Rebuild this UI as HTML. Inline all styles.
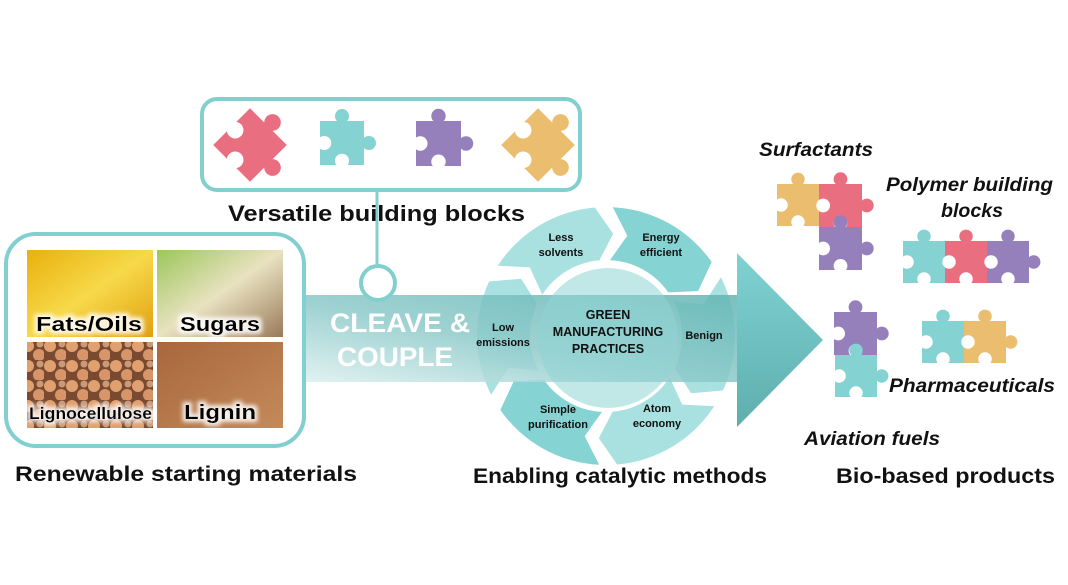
<!DOCTYPE html>
<html><head><meta charset="utf-8"><style>
body{margin:0;background:#fff;}
svg text{font-family:"Liberation Sans",sans-serif;font-weight:bold;}
</style></head><body>
<svg id="s" width="1068" height="580" viewBox="0 0 1068 580" xmlns="http://www.w3.org/2000/svg">
<defs>
<linearGradient id="band" x1="0" y1="1" x2="1" y2="0">
<stop offset="0" stop-color="#dcefef"/><stop offset="0.45" stop-color="#8ecaca"/><stop offset="1" stop-color="#62b4b4"/></linearGradient>
<linearGradient id="head" x1="0" y1="0" x2="0" y2="1">
<stop offset="0" stop-color="#80d2d2"/><stop offset="1" stop-color="#5eaeae"/></linearGradient>
<linearGradient id="oil" x1="0" y1="0" x2="1" y2="1"><stop offset="0" stop-color="#e9b00c"/><stop offset="0.5" stop-color="#f7d94a"/><stop offset="1" stop-color="#e0a010"/></linearGradient>
<linearGradient id="sug" x1="0" y1="0" x2="1" y2="1"><stop offset="0" stop-color="#9cc65a"/><stop offset="0.5" stop-color="#e8e2c0"/><stop offset="1" stop-color="#9a7a5a"/></linearGradient>
<pattern id="wood" width="22" height="20" patternUnits="userSpaceOnUse"><rect width="22" height="20" fill="#7a4a30"/><circle cx="6" cy="6" r="6" fill="#e0a070"/><circle cx="17" cy="15" r="6" fill="#d8956a"/><circle cx="18" cy="4" r="3.5" fill="#c99a78"/></pattern>
<linearGradient id="lig" x1="0" y1="0" x2="1" y2="1"><stop offset="0" stop-color="#a8673c"/><stop offset="1" stop-color="#c48a5a"/></linearGradient>
<filter id="glow" x="-20%" y="-40%" width="140%" height="180%"><feMorphology in="SourceAlpha" operator="dilate" radius="3" result="d"/><feGaussianBlur in="d" stdDeviation="2" result="b"/><feFlood flood-color="#fff" flood-opacity="0.85"/><feComposite in2="b" operator="in"/><feMerge><feMergeNode/><feMergeNode in="SourceGraphic"/></feMerge></filter>
</defs>

<rect x="202" y="99" width="378" height="91" rx="15" fill="#fff" stroke="#82cfd0" stroke-width="4"/>
<line x1="377" y1="190" x2="377" y2="264" stroke="#82cfd0" stroke-width="3"/>
<g id="pz"></g>

<text x="228" y="221" font-size="22" textLength="297" lengthAdjust="spacingAndGlyphs" fill="#111">Versatile building blocks</text>

<rect x="6" y="234" width="298" height="212" rx="30" fill="#fff" stroke="#82cfd0" stroke-width="4"/>
<rect x="27" y="250" width="126" height="87" fill="url(#oil)"/>
<rect x="157" y="250" width="126" height="87" fill="url(#sug)"/>
<rect x="27" y="342" width="126" height="86" fill="url(#wood)"/>
<rect x="157" y="342" width="126" height="86" fill="url(#lig)"/>
<g font-size="20" fill="#000" filter="url(#glow)">
<text x="36" y="331" textLength="106" lengthAdjust="spacingAndGlyphs">Fats/Oils</text>
<text x="180" y="331" textLength="80" lengthAdjust="spacingAndGlyphs">Sugars</text>
<text x="29" y="419" font-size="17" textLength="123" lengthAdjust="spacingAndGlyphs">Lignocellulose</text>
<text x="184" y="419" textLength="72" lengthAdjust="spacingAndGlyphs">Lignin</text>
</g>

<g id="seg"></g>
<rect x="306" y="295" width="434" height="87" fill="url(#band)" opacity="0.85"/>
<polygon points="737,253 823,340 737,427" fill="url(#head)"/>
<circle cx="608" cy="338" r="70" fill="#8fd4d4" opacity="0.55"/>
<circle cx="378" cy="283" r="17" fill="#fff" stroke="#82cfd0" stroke-width="4"/>
<g fill="#fff" font-size="27">
<text x="330" y="332" textLength="140" lengthAdjust="spacingAndGlyphs">CLEAVE &amp;</text>
<text x="337" y="366" textLength="116" lengthAdjust="spacingAndGlyphs">COUPLE</text>
</g>
<g font-size="11" fill="#111" text-anchor="middle">
<text x="561" y="241">Less</text><text x="561" y="256">solvents</text>
<text x="661" y="241">Energy</text><text x="661" y="256">efficient</text>
<text x="704" y="339">Benign</text>
<text x="657" y="412">Atom</text><text x="657" y="427">economy</text>
<text x="558" y="413">Simple</text><text x="558" y="428">purification</text>
<text x="503" y="331">Low</text><text x="503" y="346">emissions</text>
</g>
<g font-size="12.5" fill="#111" text-anchor="middle">
<text x="608" y="319">GREEN</text>
<text x="608" y="336">MANUFACTURING</text>
<text x="608" y="353">PRACTICES</text>
</g>

<g font-size="19" fill="#111" font-style="italic">
<text x="759" y="156" textLength="114" lengthAdjust="spacingAndGlyphs">Surfactants</text>
<text x="886" y="191" textLength="167" lengthAdjust="spacingAndGlyphs">Polymer building</text>
<text x="941" y="217" textLength="62" lengthAdjust="spacingAndGlyphs">blocks</text>
<text x="889" y="392" textLength="166" lengthAdjust="spacingAndGlyphs">Pharmaceuticals</text>
<text x="804" y="445" textLength="136" lengthAdjust="spacingAndGlyphs">Aviation fuels</text>
</g>
<g font-size="21" fill="#111">
<text x="15" y="481" textLength="342" lengthAdjust="spacingAndGlyphs">Renewable starting materials</text>
<text x="473" y="483" textLength="294" lengthAdjust="spacingAndGlyphs">Enabling catalytic methods</text>
<text x="836" y="483" textLength="219" lengthAdjust="spacingAndGlyphs">Bio-based products</text>
</g>
</svg>
<script>
var NS="http://www.w3.org/2000/svg";
var cx=606,cy=336,R=129,r=76,d=9;
var defs=[[-120,"#a9e0e0"],[-60,"#86d3d3"],[0,"#a9e0e0"],[60,"#a9e0e0"],[120,"#86d3d3"],[180,"#a9e0e0"]];
function P(a,rad){a=a*Math.PI/180;return (cx+rad*Math.cos(a)).toFixed(1)+","+(cy+rad*Math.sin(a)).toFixed(1);}
var g=document.getElementById("seg");
defs.forEach(function(s){var c=s[0],a0=c-27,a1=c+25,m=(R+r)/2;
var p="M"+P(a0,R)+" L"+P(a0+d,m)+" L"+P(a0,r)+" A"+r+","+r+" 0 0 1 "+P(a1,r)+" L"+P(a1+d,m)+" L"+P(a1,R)+" A"+R+","+R+" 0 0 0 "+P(a0,R)+"Z";
var e=document.createElementNS(NS,"path");e.setAttribute("d",p);e.setAttribute("fill",s[1]);g.appendChild(e);});
function piece(x,y,w,col,rot,par){
var k=w*0.16;var grp=document.createElementNS(NS,"g");
if(rot)grp.setAttribute("transform","rotate(45 "+(x+w/2)+" "+(y+w/2)+")");
var rc=document.createElementNS(NS,"rect");rc.setAttribute("x",x);rc.setAttribute("y",y);rc.setAttribute("width",w);rc.setAttribute("height",w);rc.setAttribute("fill",col);grp.appendChild(rc);
[[x+w/2,y-k*0.7,col],[x+w+k*0.7,y+w/2,col],[x+w/2,y+w-k*0.6,"#fff"],[x+k*0.6,y+w/2,"#fff"]].forEach(function(c){var ci=document.createElementNS(NS,"circle");ci.setAttribute("cx",c[0]);ci.setAttribute("cy",c[1]);ci.setAttribute("r",k);ci.setAttribute("fill",c[2]);grp.appendChild(ci);});
(par||document.getElementById("pz")).appendChild(grp);}
var PK="#e96f80",TE="#85d2d3",PU="#9580bb",OR="#ebbd6e";
piece(224,119,52,PK,true);piece(320,121,44,TE,false);piece(416,121,45,PU,false);piece(512,119,52,OR,true);
piece(777,184,42,OR);piece(819,184,43,PK);piece(819,227,43,PU);
piece(903,241,42,TE);piece(945,241,42,PK);piece(987,241,42,PU);
piece(834,312,43,PU);piece(835,355,42,TE);
piece(922,321,42,TE);piece(964,321,42,OR);
</script>
</body></html>
